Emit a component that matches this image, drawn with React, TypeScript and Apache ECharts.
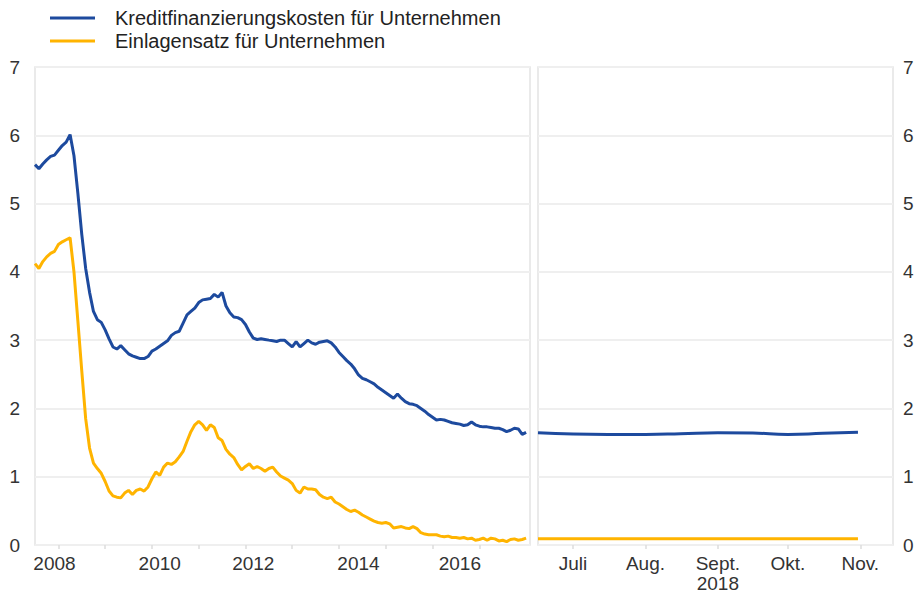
import React, { useEffect, useRef } from "react";
import * as echarts from "echarts";

// Left panel: monthly data, January 2008 onwards (index = months since Jan 2008)
const borrowingCostMonthly = [
  5.57, 5.51, 5.58, 5.64, 5.69, 5.71, 5.78, 5.85, 5.9, 6.01, 5.7, 5.15,
  4.55, 4.05, 3.7, 3.42, 3.3, 3.26, 3.15, 3.02, 2.9, 2.87, 2.92, 2.86,
  2.8, 2.77, 2.75, 2.73, 2.73, 2.76, 2.84, 2.87, 2.91, 2.95, 2.99, 3.07,
  3.11, 3.13, 3.25, 3.37, 3.42, 3.47, 3.55, 3.59, 3.6, 3.61, 3.67, 3.63,
  3.7, 3.5, 3.4, 3.34, 3.33, 3.3, 3.23, 3.12, 3.03, 3.01, 3.02, 3.01,
  3.0, 2.99, 2.98, 3.0, 3.0, 2.95, 2.9, 2.98, 2.9, 2.95, 3.0, 2.96,
  2.94, 2.97, 2.98, 2.99, 2.96, 2.9, 2.82, 2.76, 2.7, 2.65, 2.58, 2.49,
  2.44, 2.42, 2.39, 2.36, 2.31, 2.27, 2.23, 2.19, 2.15, 2.21, 2.15, 2.1,
  2.07, 2.06, 2.04, 2.0, 1.96, 1.91, 1.87, 1.83, 1.84, 1.83, 1.81, 1.79,
  1.78, 1.77, 1.75, 1.76, 1.8, 1.76, 1.74, 1.73, 1.73, 1.72, 1.71, 1.71,
  1.69, 1.66, 1.68, 1.71, 1.7, 1.62, 1.65,
];
const depositRateMonthly = [
  4.12, 4.05, 4.15, 4.22, 4.27, 4.3, 4.4, 4.44, 4.47, 4.5, 4.0, 3.28,
  2.55, 1.85, 1.42, 1.2, 1.12, 1.05, 0.93, 0.79, 0.72, 0.7, 0.69, 0.76,
  0.8, 0.74, 0.8, 0.82, 0.79, 0.85, 0.97, 1.07, 1.02, 1.14, 1.2, 1.18,
  1.22, 1.29, 1.37, 1.52, 1.66, 1.76, 1.81, 1.76, 1.68, 1.76, 1.72, 1.57,
  1.53, 1.4, 1.33, 1.28, 1.18, 1.1, 1.15, 1.19, 1.12, 1.15, 1.12, 1.08,
  1.12, 1.14, 1.07, 1.01, 0.98, 0.95, 0.9, 0.8, 0.76, 0.85, 0.82, 0.82,
  0.81, 0.74, 0.7, 0.68, 0.7, 0.63, 0.6, 0.56, 0.52, 0.49, 0.51, 0.48,
  0.44, 0.41, 0.38, 0.35, 0.33, 0.32, 0.33, 0.31, 0.25, 0.26, 0.27, 0.25,
  0.24, 0.27, 0.24, 0.18, 0.16, 0.15, 0.15, 0.15, 0.13, 0.12, 0.13, 0.11,
  0.11, 0.1, 0.11, 0.09, 0.1, 0.07, 0.08, 0.1, 0.07, 0.1, 0.09, 0.06,
  0.07, 0.05, 0.08, 0.09, 0.07, 0.08, 0.1,
];

// Right panel: 2018, days relative to 1 July 2018
const recentDays = [-15, 0, 15, 31, 46, 62, 77, 92, 107, 122];
const borrowingCostRecent = [1.645, 1.625, 1.62, 1.62, 1.63, 1.645, 1.64, 1.62, 1.635, 1.65];
const depositRateRecent = [0.09, 0.09, 0.09, 0.09, 0.09, 0.09, 0.09, 0.09, 0.09, 0.09];

const yearLabels = ["2008", "2010", "2012", "2014", "2016"];
const monthLabels = ["Juli", "Aug.", "Sept.\n2018", "Okt.", "Nov."];
const monthStartDays = [0, 31, 62, 92, 123];

const seriesNames = ["Kreditfinanzierungskosten für Unternehmen", "Einlagensatz für Unternehmen"];
const BLUE = "#1d4a9e";
const YELLOW = "#ffb400";

export default function App() {
  const ref = useRef<HTMLDivElement>(null);

  useEffect(() => {
    document.body.style.margin = "0";
    if (!ref.current) return;
    const chart = echarts.init(ref.current, undefined, { renderer: "svg" });
    const font = "'Liberation Sans', Arial, sans-serif";
    const textColor = "#333333";

    // label anchor positions (month index) for year labels, as drawn in the original
    const yearLabelPos = [5, 32, 56, 83, 109];
    const midYearTicks = Array.from({ length: 10 }, (_, i) => 6 + 12 * i);

    const yAxisCommon = {
      type: "value" as const,
      min: 0,
      max: 7,
      interval: 1,
      axisLine: { show: false },
      axisTick: { show: false },
      splitLine: { show: true, lineStyle: { color: "#efefef", width: 2 } },
      axisLabel: { color: textColor, fontSize: 19, fontFamily: font },
    };

    const xLabelStyle = {
      color: textColor,
      fontSize: 19,
      fontFamily: font,
      margin: 8,
      lineHeight: 20,
    };

    chart.setOption({
      animation: false,
      textStyle: { fontFamily: font },
      legend: {
        left: 45,
        top: 3,
        orient: "vertical",
        itemWidth: 45,
        itemHeight: 3,
        itemGap: 3,
        icon: "rect",
        data: seriesNames,
        textStyle: { fontSize: 20, color: "#222", fontFamily: font, padding: [0, 0, 0, 15] },
      },
      grid: [
        { left: 35, top: 67, width: 495, height: 478, containLabel: false, outerBoundsMode: "none", show: true, borderColor: "#e3e3e3", borderWidth: 1.5, backgroundColor: "transparent" },
        { left: 538, top: 67, width: 355, height: 478, containLabel: false, outerBoundsMode: "none", show: true, borderColor: "#e3e3e3", borderWidth: 1.5, backgroundColor: "transparent" },
      ],
      xAxis: [
        {
          type: "value",
          gridIndex: 0,
          min: 0,
          max: 127,
          axisLine: { show: false },
          splitLine: { show: false },
          axisTick: { show: true, customValues: midYearTicks, length: 4, lineStyle: { color: "#dddddd", width: 1.5 } },
          axisLabel: {
            ...xLabelStyle,
            customValues: yearLabelPos,
            formatter: (v: number) => yearLabels[yearLabelPos.indexOf(Math.round(v))] ?? "",
          },
        },
        {
          type: "value",
          gridIndex: 1,
          min: -15,
          max: 137,
          axisLine: { show: false },
          splitLine: { show: false },
          axisTick: { show: true, customValues: monthStartDays, length: 4, lineStyle: { color: "#dddddd", width: 1.5 } },
          axisLabel: {
            ...xLabelStyle,
            customValues: monthStartDays,
            formatter: (v: number) => monthLabels[monthStartDays.indexOf(Math.round(v))] ?? "",
          },
        },
      ],
      yAxis: [
        { ...yAxisCommon, gridIndex: 0, position: "left", axisLabel: { ...yAxisCommon.axisLabel, margin: 15 } },
        { ...yAxisCommon, gridIndex: 1, position: "right", axisLabel: { ...yAxisCommon.axisLabel, margin: 10 } },
      ],
      series: [
        {
          name: seriesNames[0],
          type: "line",
          xAxisIndex: 0,
          yAxisIndex: 0,
          data: borrowingCostMonthly.map((v, i) => [i, v]),
          showSymbol: false,
          symbol: "none",
          lineStyle: { color: BLUE, width: 3 },
          itemStyle: { color: BLUE },
        },
        {
          name: seriesNames[1],
          type: "line",
          xAxisIndex: 0,
          yAxisIndex: 0,
          data: depositRateMonthly.map((v, i) => [i, v]),
          showSymbol: false,
          symbol: "none",
          lineStyle: { color: YELLOW, width: 3 },
          itemStyle: { color: YELLOW },
        },
        {
          name: seriesNames[0],
          type: "line",
          xAxisIndex: 1,
          yAxisIndex: 1,
          data: recentDays.map((d, i) => [d, borrowingCostRecent[i]]),
          showSymbol: false,
          symbol: "none",
          smooth: true,
          lineStyle: { color: BLUE, width: 3 },
          itemStyle: { color: BLUE },
        },
        {
          name: seriesNames[1],
          type: "line",
          xAxisIndex: 1,
          yAxisIndex: 1,
          data: recentDays.map((d, i) => [d, depositRateRecent[i]]),
          showSymbol: false,
          symbol: "none",
          lineStyle: { color: YELLOW, width: 3 },
          itemStyle: { color: YELLOW },
        },
      ],
    });

    return () => chart.dispose();
  }, []);

  return <div ref={ref} style={{ width: 915, height: 593 }} />;
}
